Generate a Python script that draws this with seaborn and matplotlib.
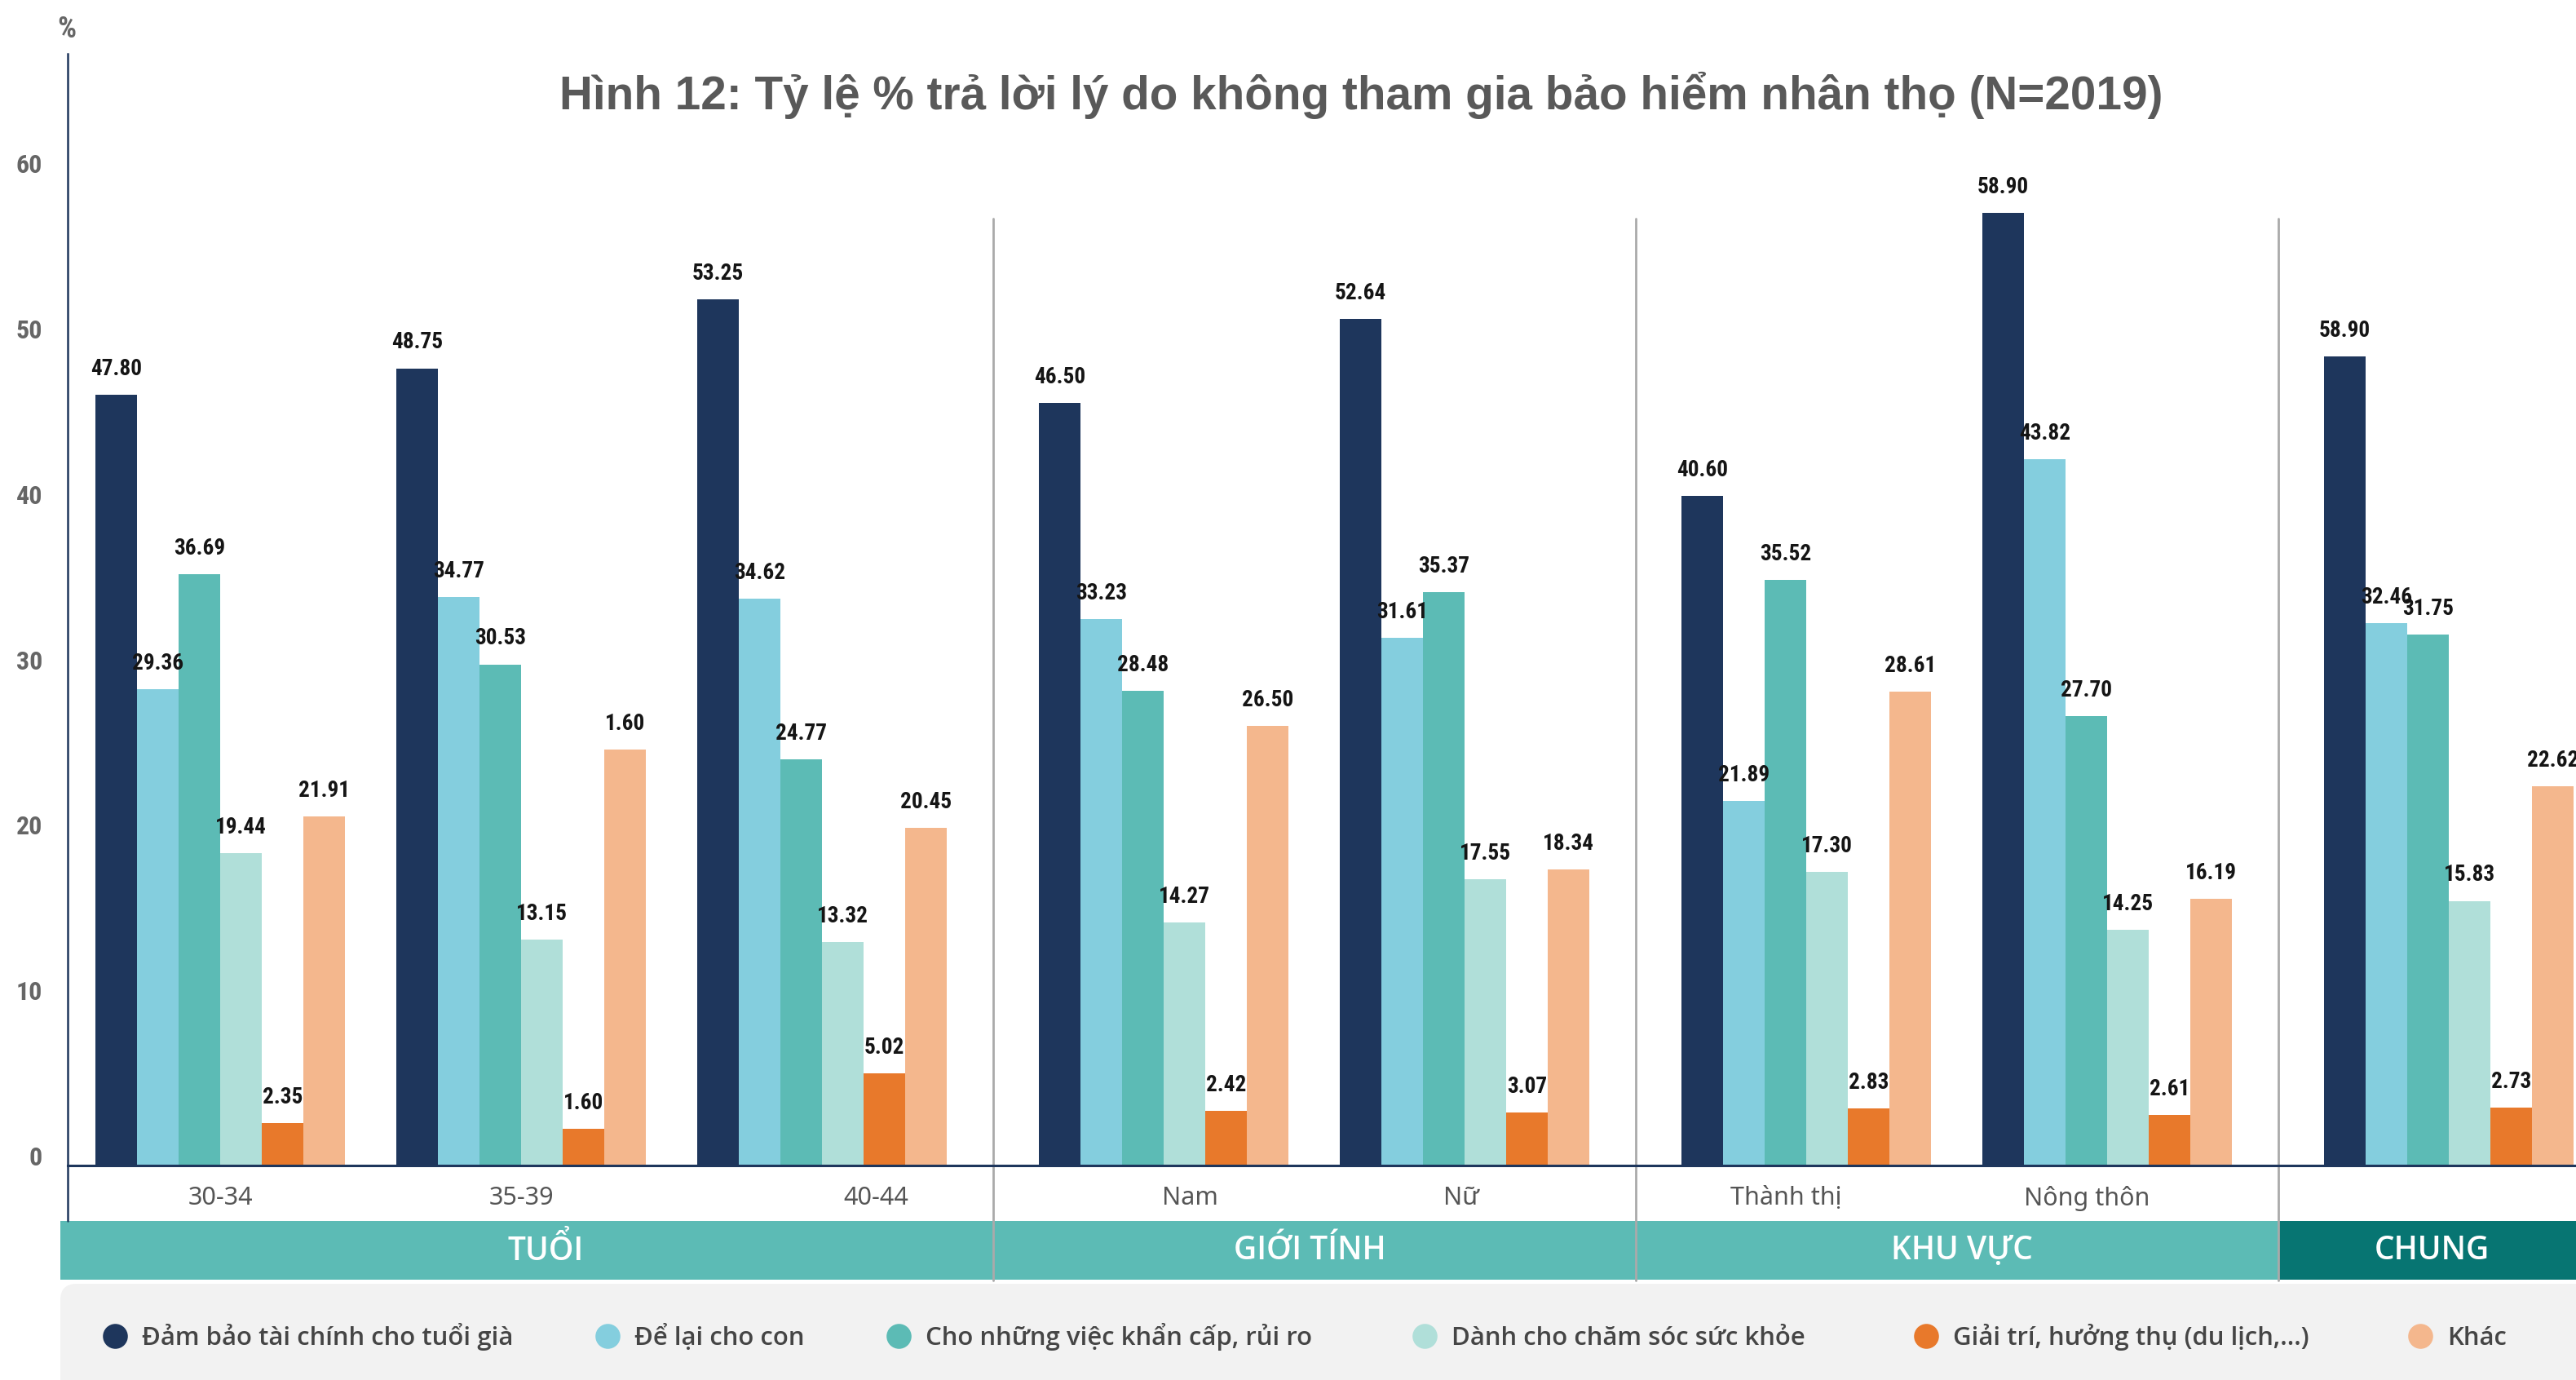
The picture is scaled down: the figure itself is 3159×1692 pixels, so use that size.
import numpy as np
import pandas as pd
import seaborn as sns
import matplotlib.pyplot as plt
from matplotlib import font_manager
from matplotlib.lines import Line2D
from matplotlib.patches import Rectangle, FancyBboxPatch

# ---- data ----
groups = ["30-34", "35-39", "40-44", "Nam", "Nữ", "Thành thị", "Nông thôn", "Chung"]
tick_names = ["30-34", "35-39", "40-44", "Nam", "Nữ", "Thành thị", "Nông thôn"]
sections = ["TUỔI", "GIỚI TÍNH", "KHU VỰC", "CHUNG"]
section_of_group = [0, 0, 0, 1, 1, 2, 2, 3]

reasons = ["Đảm bảo tài chính cho tuổi già", "Để lại cho con",
           "Cho những việc khẩn cấp, rủi ro", "Dành cho chăm sóc sức khỏe",
           "Giải trí, hưởng thụ (du lịch,...)", "Khác"]

# bar heights as drawn in the picture
h_tuoi_gia = [46.6, 48.2, 52.35, 46.1, 51.2, 40.5, 57.6, 48.9]
h_cho_con = [28.8, 34.35, 34.25, 33.05, 31.9, 22.05, 42.7, 32.8]
h_khan_cap = [35.75, 30.3, 24.55, 28.7, 34.65, 35.4, 27.15, 32.1]
h_suc_khoe = [18.9, 13.65, 13.5, 14.7, 17.3, 17.75, 14.25, 16.0]
h_giai_tri = [2.55, 2.2, 5.55, 3.3, 3.2, 3.45, 3.05, 3.5]
h_khac = [21.1, 25.15, 20.4, 26.6, 17.9, 28.65, 16.1, 22.95]

# numbers printed above the bars
l_tuoi_gia = ["47.80", "48.75", "53.25", "46.50", "52.64", "40.60", "58.90", "58.90"]
l_cho_con = ["29.36", "34.77", "34.62", "33.23", "31.61", "21.89", "43.82", "32.46"]
l_khan_cap = ["36.69", "30.53", "24.77", "28.48", "35.37", "35.52", "27.70", "31.75"]
l_suc_khoe = ["19.44", "13.15", "13.32", "14.27", "17.55", "17.30", "14.25", "15.83"]
l_giai_tri = ["2.35", "1.60", "5.02", "2.42", "3.07", "2.83", "2.61", "2.73"]
l_khac = ["21.91", "1.60", "20.45", "26.50", "18.34", "28.61", "16.19", "22.62"]

heights = [h_tuoi_gia, h_cho_con, h_khan_cap, h_suc_khoe, h_giai_tri, h_khac]
bar_labels = [l_tuoi_gia, l_cho_con, l_khan_cap, l_suc_khoe, l_giai_tri, l_khac]
colors = ["#1E365C", "#84CEDE", "#5CBBB5", "#B0DFD9", "#E8792B", "#F4B78D"]

# ---- fonts ----
sns.set_style("white")


def weight_num(w):
    return w if isinstance(w, (int, float)) else font_manager.weight_dict.get(w, 400)


def pick_family(cands, lo, hi, default):
    for fam in cands:
        ws = [weight_num(f.weight) for f in font_manager.fontManager.ttflist if f.name == fam]
        if any(lo <= w <= hi for w in ws):
            return fam
    return default


available = {f.name for f in font_manager.fontManager.ttflist}
narrow = next((f for f in ["Liberation Sans Narrow", "Roboto Condensed", "DejaVu Sans"]
               if f in available), "DejaVu Sans")
semi = pick_family(["Open Sans", "Noto Sans", "Roboto", "Lato"], 500, 650, None)
if semi is None:
    semi = pick_family(["Noto Sans", "Open Sans", "Roboto"], 700, 700, "DejaVu Sans")
plt.rcParams["font.family"] = ["Noto Sans", "DejaVu Sans"]

W, H, DPI = 3159, 1692, 200
navy = "#1E365C"

# layout: one unit per group, a little extra gap between sections
gap = 0.1355
pos = [i + section_of_group[i] * gap for i in range(len(groups))]
label_shift_px = [0, 0, 66, 32, -4, -25, -25]
band_shift_px = [23, -5, 6, 6]
legend_x_px = [141, 745, 1102, 1747, 2362, 2968]

rows = []
for r, vals in zip(reasons, heights):
    for p, v in zip(pos, vals):
        rows.append({"pos": p, "value": v, "reason": r})
df = pd.DataFrame(rows)

fig = plt.figure(figsize=(W / DPI, H / DPI), dpi=DPI)
ax = fig.add_axes([83 / W, (H - 1429) / H, (W - 83) / W, 1363 / H])
ax.set_facecolor("none")

sns.barplot(data=df, x="pos", y="value", hue="reason", hue_order=reasons,
            palette=colors, native_scale=True, width=0.83, saturation=1,
            linewidth=0, legend=False, ax=ax)

for cont, labs in zip(ax.containers, bar_labels):
    ax.bar_label(cont, labels=labs, padding=6.5, fontsize=9.8, fontweight="bold",
                 color="#151515", family=narrow)

ax.set_xlim(-0.507, 7.829)
ax.set_ylim(0, 67.21)
ax.set_xlabel("")
ax.set_ylabel("")
xl, xr = ax.get_xlim()
unit_px = (W - 83) / (xr - xl)

# y axis
ax.set_yticks(np.arange(0, 61, 10))
ax.tick_params(axis="y", direction="inout", length=10.4, width=0.9, color=navy,
               pad=6, labelsize=11.5, labelcolor="#666666")
for t in ax.get_yticklabels():
    t.set_fontfamily(narrow)
    t.set_fontweight("bold")
    t.set_va("baseline")

# x axis
ax.set_xticks([p + s / unit_px for p, s in zip(pos[:7], label_shift_px)])
ax.set_xticklabels(tick_names)
ax.tick_params(axis="x", length=0, pad=9, labelsize=11, labelcolor="#555555")

for s in ["top", "right"]:
    ax.spines[s].set_visible(False)
ax.spines["left"].set_color(navy)
ax.spines["left"].set_linewidth(0.9)
ax.spines["bottom"].set_color(navy)
ax.spines["bottom"].set_linewidth(1.1)
ax.plot([0, 0], [-68 / 1363, 0], transform=ax.transAxes, color=navy, lw=0.9,
        clip_on=False)

# section separators
ylo, yhi = ax.get_ylim()
bounds = [xl]
for i in range(len(groups) - 1):
    if section_of_group[i] != section_of_group[i + 1]:
        mid = (pos[i] + pos[i + 1]) / 2
        bounds.append(mid)
        ax.axvline(mid, ymin=-6.95 / yhi, ymax=57.25 / yhi, color="#AAAAAA",
                   lw=1.0, clip_on=False)
bounds.append(xr)

# section band
inch = fig.dpi_scale_trans
band_y0 = (H - 1569) / DPI
band_h = 72 / DPI
to_px = lambda x: 83 + (x - xl) * unit_px
for k, name in enumerate(sections):
    x0 = 74 if k == 0 else to_px(bounds[k])
    x1 = to_px(bounds[k + 1])
    col = "#077572" if name == "CHUNG" else "#5CBBB5"
    fig.add_artist(Rectangle((x0 / DPI, band_y0), (x1 - x0) / DPI, band_h,
                             transform=inch, color=col, zorder=-1, lw=0))
    fig.text(((x0 + x1) / 2 + band_shift_px[k]) / W, 1 - 1534 / H, name,
             ha="center", va="center", fontsize=14, fontweight="semibold",
             color="white", family=[semi, "DejaVu Sans"])

# legend background
fig.add_artist(FancyBboxPatch((74 / DPI, -0.5), 16.0, (H - 1574) / DPI + 0.5,
                              boxstyle="round,pad=0,rounding_size=0.1",
                              transform=inch, facecolor="#F2F2F2",
                              edgecolor="none", zorder=-1))

# legend: one entry per item so the uneven spacing of the original is kept;
# anchored at the bottom so all texts share one baseline
leg_size = 11.2
half_handle = 0.5 * leg_size * DPI / 72
for c, r, cx in zip(colors, reasons, legend_x_px):
    h = Line2D([], [], marker="o", linestyle="", markersize=10,
               markerfacecolor=c, markeredgecolor=c)
    fig.legend([h], [r], loc="lower left",
               bbox_to_anchor=((cx - half_handle) / W, 1 - 1656 / H),
               frameon=False, handlelength=1.0, handletextpad=0.55,
               borderpad=0, borderaxespad=0, labelcolor="#454545",
               prop={"family": [semi, "DejaVu Sans"], "weight": "semibold",
                     "size": leg_size})

# titles
fig.text(1669 / W, 1 - 117 / H,
         "Hình 12: Tỷ lệ % trả lời lý do không tham gia bảo hiểm nhân thọ (N=2019)",
         ha="center", va="center", fontsize=20.4, fontweight="bold", color="#595959",
         family=["Liberation Sans", "DejaVu Sans"])
fig.text(82 / W, 1 - 36 / H, "%", ha="center", va="center", fontsize=13,
         fontweight="bold", color="#666666", family=narrow)

fig.savefig("out.png", dpi=DPI)
